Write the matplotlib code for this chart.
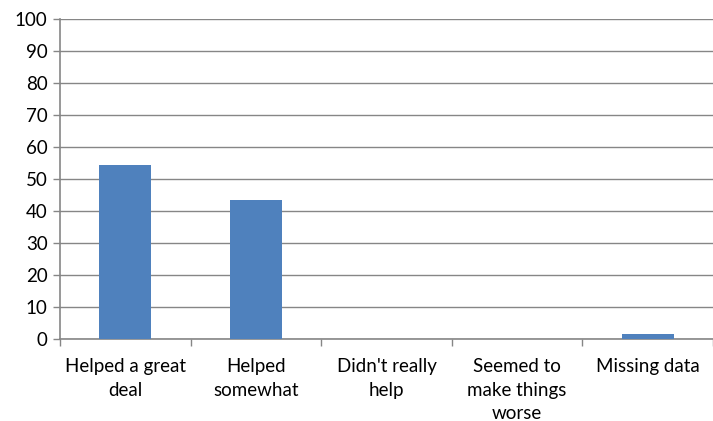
import numpy as np
import matplotlib.pyplot as plt

categories = ["Helped a great\ndeal", "Helped\nsomewhat", "Didn't really\nhelp",
              "Seemed to\nmake things\nworse", "Missing data"]
values = [54.5, 43.5, 0, 0, 1.7]

plt.rcParams['font.family'] = ['Lato', 'DejaVu Sans']

fig = plt.figure(figsize=(7.13, 4.21), dpi=100)
ax = fig.add_axes([60 / 713, 1 - 339 / 421, 653 / 713, 320 / 421])

x = np.arange(len(categories))
ax.bar(x, values, width=0.4, color='#4f81bd', zorder=3)

ax.set_xlim(-0.5, len(categories) - 0.5)
ax.set_ylim(0, 100)
ax.set_yticks(np.arange(0, 101, 10))
ax.yaxis.grid(True, color='#868686', linewidth=1, zorder=0)

ax.set_xticks(x)
ax.set_xticklabels(categories, linespacing=1.45)
ax.set_xticks(np.arange(-0.5, len(categories)), minor=True)
ax.tick_params(axis='x', which='major', length=0, pad=14, labelsize=13.5)
ax.tick_params(axis='x', which='minor', length=5, color='#868686', width=1)
ax.tick_params(axis='y', length=5, color='#868686', width=1, labelsize=13.5, pad=4)

for side in ['top', 'right']:
    ax.spines[side].set_visible(False)
for side in ['left', 'bottom']:
    ax.spines[side].set_color('#868686')
    ax.spines[side].set_linewidth(1.2)

fig.savefig('out.png', dpi=100)
